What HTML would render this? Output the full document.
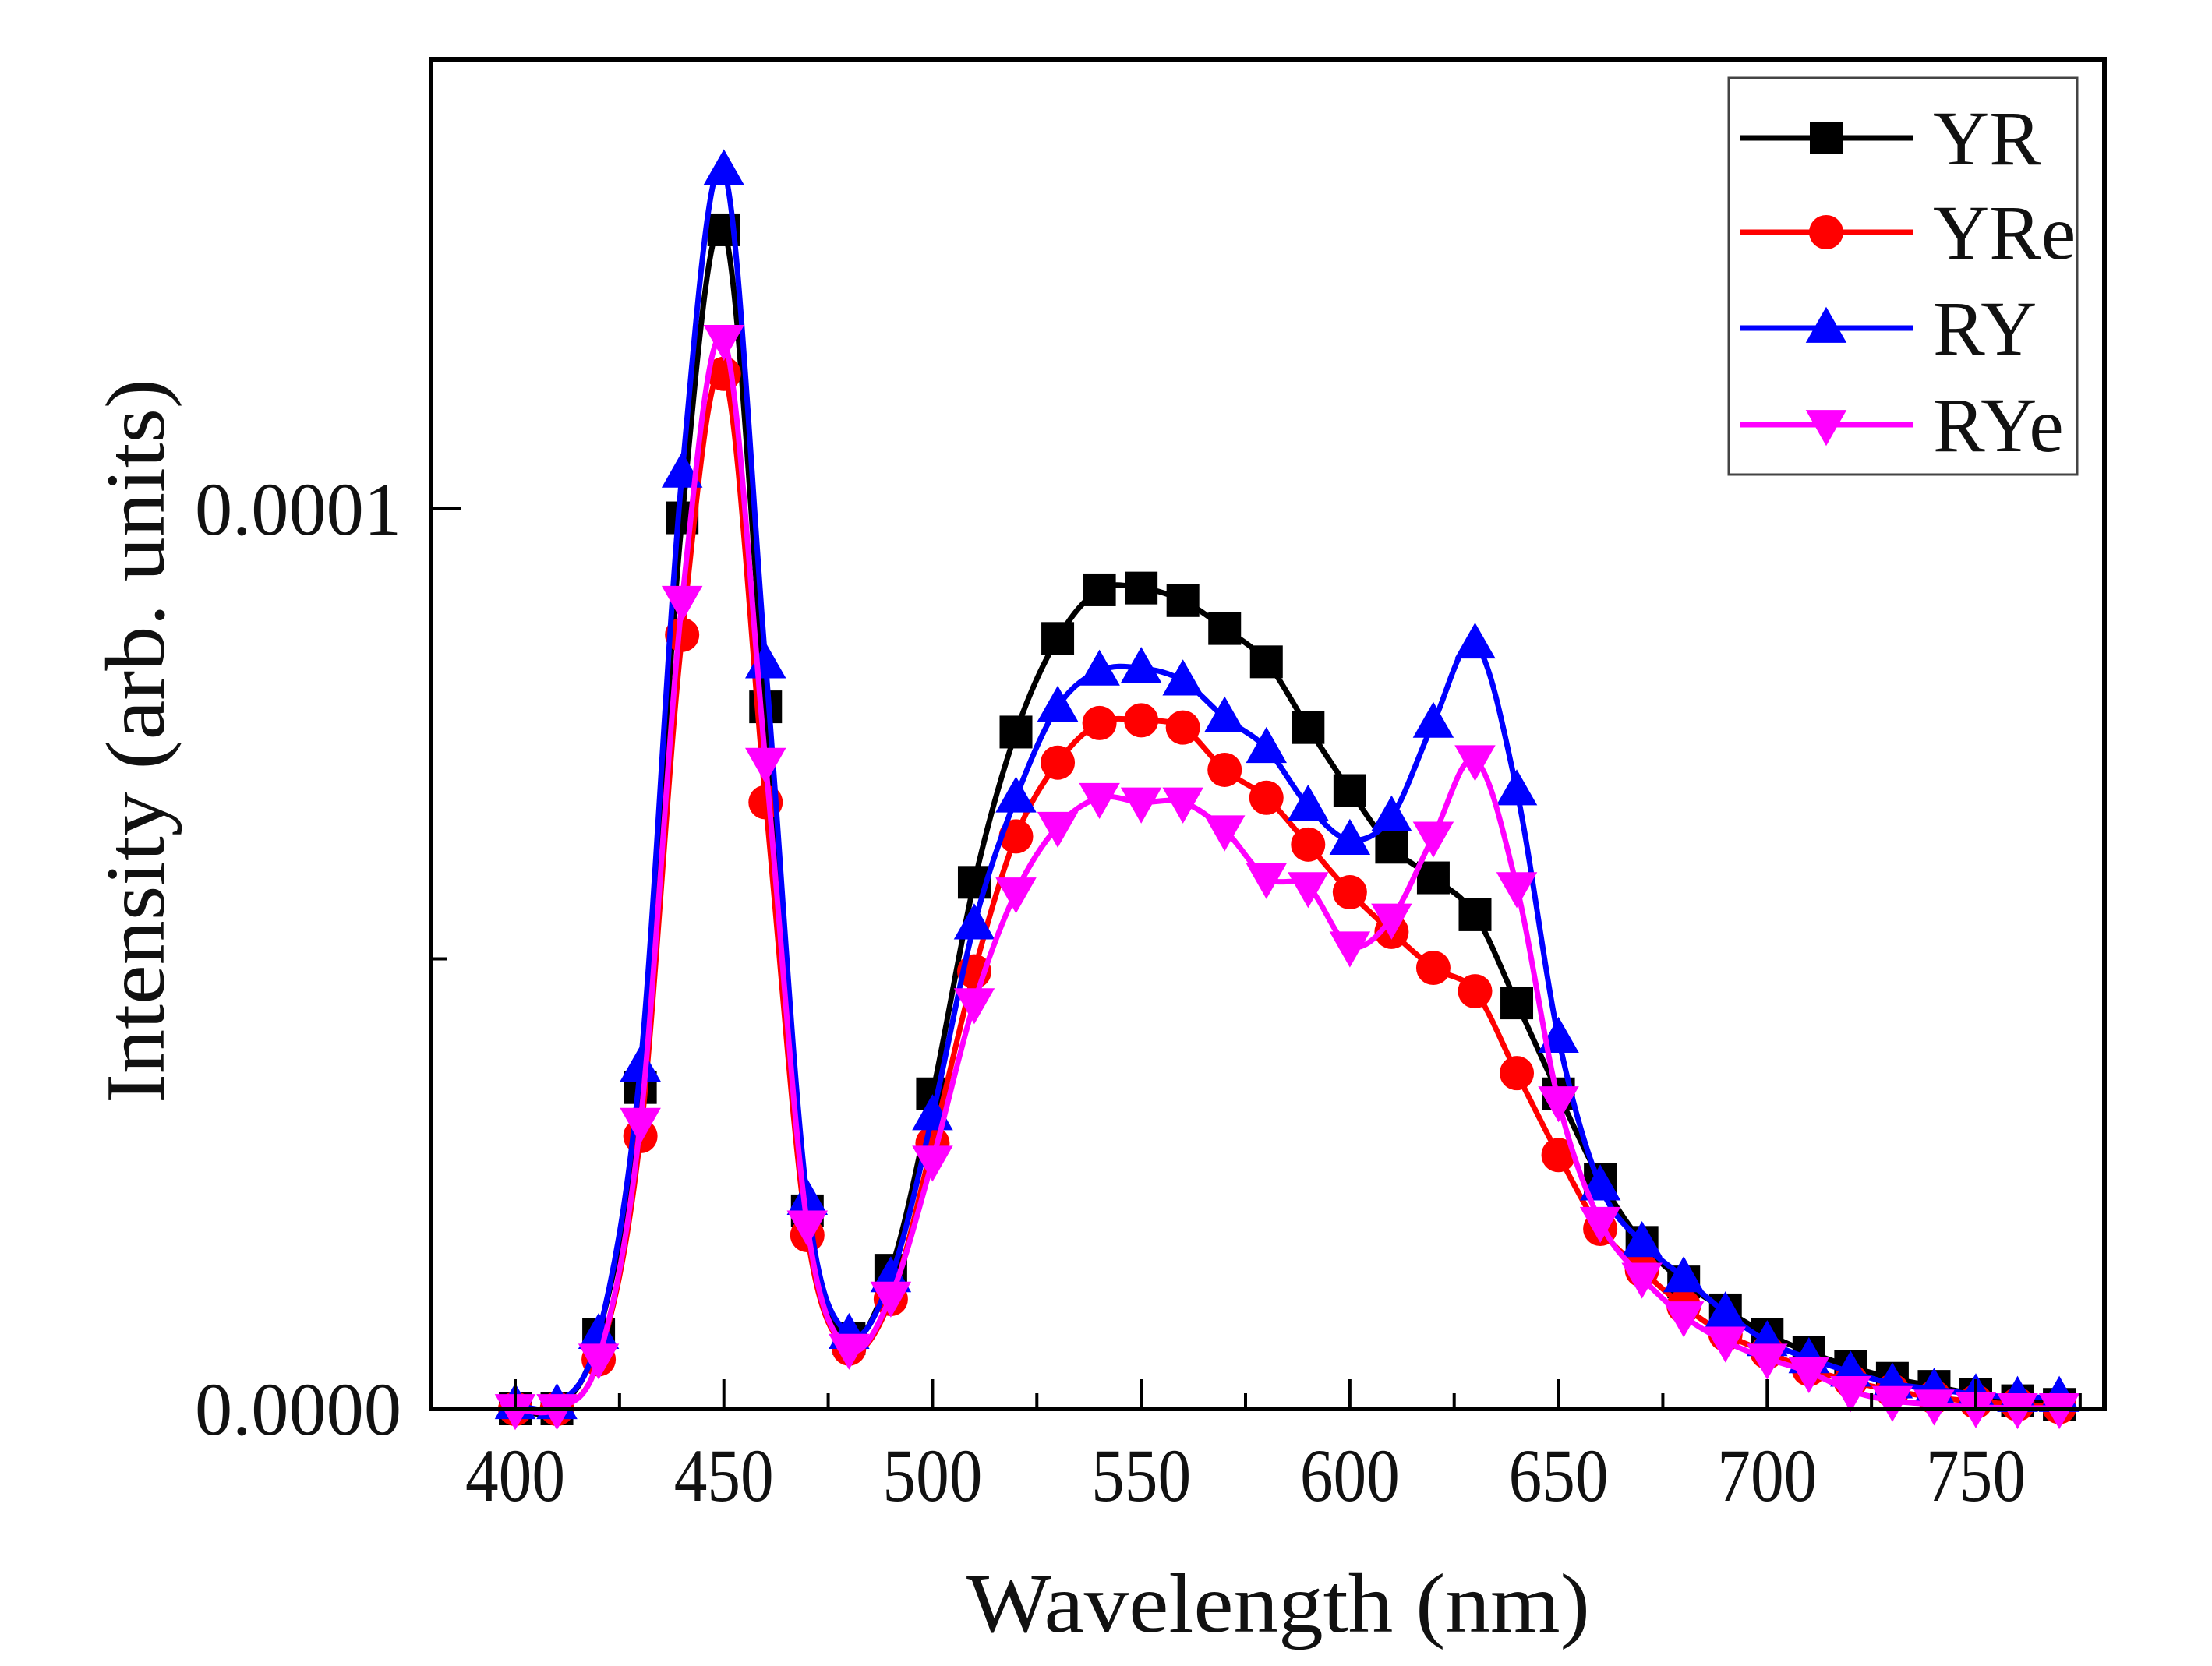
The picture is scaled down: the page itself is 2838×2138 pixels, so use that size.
<!DOCTYPE html>
<html><head><meta charset="utf-8"><style>
html,body{margin:0;padding:0;background:#fff;}
svg{display:block;}
text{font-family:"Liberation Serif",serif;fill:#111;}
</style></head><body>
<svg id="chart" width="2838" height="2138" viewBox="0 0 2838 2138" xmlns="http://www.w3.org/2000/svg">
<g id="plot"></g>
<g id="axes"></g>
<text x="1640" y="2094" font-size="108" text-anchor="middle" textLength="800" lengthAdjust="spacingAndGlyphs">Wavelength (nm)</text>
<text transform="translate(210,951) rotate(-90)" font-size="108" text-anchor="middle" textLength="930" lengthAdjust="spacingAndGlyphs">Intensity (arb. units)</text>
<g id="legend"></g>
</svg>
<script>
const wavelengths=[400,410,420,430,440,450,460,470,480,490,500,510,520,530,540,550,560,570,580,590,600,610,620,630,640,650,660,670,680,690,700,710,720,730,740,750,760,770];
const seriesNames=["YR","YRe","RY","RYe"];
// values in units of 1e-6
const valsYR=[0,0,8.3,35.7,99,131,78,22,7.8,15.4,35,58.5,75.2,85.6,91,91.2,89.8,86.7,83,75.7,68.7,62.4,59,54.9,45.1,35,25.5,18.5,14.1,11,8.3,6.3,4.7,3.4,2.5,1.6,0.9,0.5];
const valsYRe=[0,0,5.5,30.3,86,115,67.4,19.3,6.7,12.2,29.5,48.6,63.6,71.8,76.2,76.5,75.7,71,67.9,62.7,57.4,53,49,46.4,37.3,28.2,20,15.4,11.4,8.3,6.3,4.4,3.1,2,1.3,0.8,0.5,0.2];
const valsRY=[0.5,0.5,8.3,38,104,137.6,82.8,23.2,8.3,14.6,32.6,53.8,67.9,78,82,82.3,80.9,76.8,73.4,67,63.2,65.8,76.2,85,68.7,41.2,24.8,18.5,14.6,10.7,7.5,5.6,4.1,2.8,2.2,1.6,1.3,1.3];
const valsRYe=[0,0,5.6,31.8,89.8,118.8,71.8,20.4,6.7,12.5,27.6,45.1,57.4,64.7,67.9,67.4,67.4,64.3,59,58,51.4,54.5,63.6,72.1,58,34.2,20.8,14.6,10.3,7.5,5.6,4.1,2,0.9,0.5,0.2,0.1,0.1];
const xTicks=[400,450,500,550,600,650,700,750];
const yTickLabels=["0.0000","0.0001"];
const yTickVals=[0,100];

const NS="http://www.w3.org/2000/svg";
const L=553,R=2700,T=76,B=1808;
const X=v=>661+(v-400)*(2535-661)/350;
const Y=v=>B-v*(B-653)/100;
function mk(tag,attrs,parent){const e=document.createElementNS(NS,tag);for(const k in attrs)e.setAttribute(k,attrs[k]);parent.appendChild(e);return e;}
const plot=document.getElementById('plot'),axes=document.getElementById('axes'),legend=document.getElementById('legend');
const colors=["#000000","#ff0000","#0000ff","#ff00ff"];
const data=[valsYR,valsYRe,valsRY,valsRYe];
const MS=21;
function marker(i,cx,cy,parent){
  let e;
  if(i===0){e=mk('rect',{x:cx-MS,y:cy-MS,width:2*MS,height:2*MS,fill:colors[0]},parent);}
  else if(i===1){e=mk('circle',{cx:cx,cy:cy,r:MS+1,fill:colors[1]},parent);}
  else if(i===2){e=mk('polygon',{points:`${cx},${cy-MS*1.3} ${cx-MS*1.25},${cy+MS*0.9} ${cx+MS*1.25},${cy+MS*0.9}`,fill:colors[2]},parent);}
  else {e=mk('polygon',{points:`${cx},${cy+MS*1.3} ${cx-MS*1.25},${cy-MS*0.9} ${cx+MS*1.25},${cy-MS*0.9}`,fill:colors[3]},parent);}
  return e;
}
function smoothPath(pts){
  let d=`M${pts[0][0]},${pts[0][1]}`;
  for(let i=0;i<pts.length-1;i++){
    const p0=pts[Math.max(0,i-1)],p1=pts[i],p2=pts[i+1],p3=pts[Math.min(pts.length-1,i+2)];
    const c1=[p1[0]+(p2[0]-p0[0])/6,p1[1]+(p2[1]-p0[1])/6];
    const c2=[p2[0]-(p3[0]-p1[0])/6,p2[1]-(p3[1]-p1[1])/6];
    d+=` C${c1[0]},${c1[1]} ${c2[0]},${c2[1]} ${p2[0]},${p2[1]}`;
  }
  return d;
}
data.forEach((vals,i)=>{
  const g=mk('g',{},plot);
  
  
  const pts=vals.map((v,j)=>[X(wavelengths[j]),Y(v)]);
  const p=mk('path',{d:smoothPath(pts),fill:'none',stroke:colors[i],'stroke-width':7,'stroke-linejoin':'round'},g);
  
  
  pts.forEach(pt=>{
    const m=marker(i,pt[0],pt[1],g);
    
    
  });
});
const fr=mk('rect',{x:L,y:T,width:R-L,height:B-T,fill:'none',stroke:'#000','stroke-width':6},axes);


for(let v=400;v<=775;v+=25){
  const major=v%50===0;
  const t=mk('line',{x1:X(v),x2:X(v),y1:B,y2:B-(major?38:20),stroke:'#000','stroke-width':4},axes);
  
  
}
xTicks.forEach(v=>{
  const t=mk('text',{x:X(v),y:1926,'font-size':96,'text-anchor':'middle',textLength:128,lengthAdjust:'spacingAndGlyphs'},axes);
  t.textContent=v;
  
  
});
[0,50,100,150].forEach(v=>{
  const major=v%100===0;
  const t=mk('line',{x1:L,x2:L+(major?38:20),y1:Y(v),y2:Y(v),stroke:'#000','stroke-width':4},axes);
  
  
});
yTickVals.forEach((v,k)=>{
  const t=mk('text',{x:515,y:Y(v)+33,'font-size':96,'text-anchor':'end',textLength:265,lengthAdjust:'spacingAndGlyphs'},axes);
  t.textContent=yTickLabels[k];
  
  
});
const lb=mk('rect',{x:2218,y:100,width:447,height:509,fill:'#fff',stroke:'#444','stroke-width':3},legend);


const ly=[177,298,421,545];
seriesNames.forEach((n,i)=>{
  const g=mk('g',{},legend);
  
  
  mk('line',{x1:2232,x2:2455,y1:ly[i],y2:ly[i],stroke:colors[i],'stroke-width':7},g);
  marker(i,2343,ly[i],g);
  const t=mk('text',{x:2480,y:ly[i]+34,'font-size':100},g);
  t.textContent=n;
});
</script>
</body></html>
